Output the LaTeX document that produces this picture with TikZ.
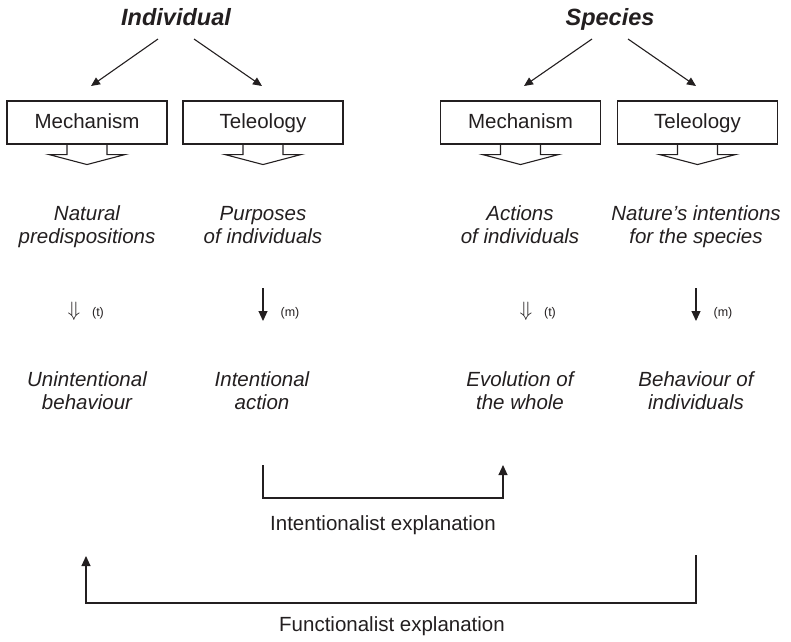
\documentclass[tikz,border=0pt]{standalone}
\usepackage{fontspec}
\setmainfont{Liberation Sans}
\usetikzlibrary{arrows.meta}
\definecolor{ink}{RGB}{35,31,32}
\newcommand\lnstrut{\vrule width 0pt height 15pt depth 5pt\relax}
\begin{document}
\begin{tikzpicture}[x=1pt,y=-1pt, line width=1.1pt, color=ink,
  title/.style={font=\fontsize{23.5}{26}\selectfont\bfseries\itshape, inner sep=0pt, anchor=base},
  box/.style={draw, minimum width=160pt, minimum height=43pt, inner sep=0pt, text height=15pt, text depth=4pt, font=\fontsize{20.5}{23}\selectfont},
  itl/.style={align=center, font=\fontsize{20.5}{23}\selectfont\itshape, inner sep=0pt},
  lbl/.style={font=\fontsize{20.5}{23}\selectfont, inner sep=0pt, anchor=base},
  smalllbl/.style={font=\fontsize{12.5}{14}\selectfont, inner sep=0pt},
  dbl/.style={font=\fontsize{19.5}{20}\selectfont, inner sep=0pt},
  arr/.style={-{Triangle[length=9pt,width=8pt]}},
  darr/.style={-{Triangle[length=10pt,width=9pt]}},
  blockarr/.style={line join=miter}
]
\useasboundingbox (0,0) rectangle (791,641);

% titles
\node[title] (ind) at (176,25) {Individual};
\node[title] (spe) at (610,25) {Species};

% boxes
\node[box] (imech) at (87,122.5) {Mechanism};
\node[box] (itel) at (263,122.5) {Teleology};
\node[box] (smech) at (520.5,122.5) {Mechanism};
\node[box] (stel) at (697.5,122.5) {Teleology};

% arrows from titles
\coordinate (ia1) at (158,39); \coordinate (ib1) at (91,86);
\coordinate (ia2) at (194,39); \coordinate (ib2) at (262,86);
\coordinate (sa1) at (592,39); \coordinate (sb1) at (524,86);
\coordinate (sa2) at (628,39); \coordinate (sb2) at (696,86);
\draw[arr] (ia1) -- (ib1);
\draw[arr] (ia2) -- (ib2);
\draw[arr] (sa1) -- (sb1);
\draw[arr] (sa2) -- (sb2);

% block arrows under boxes
\foreach \b in {imech,itel,smech,stel}{
  \draw[blockarr] (\b.south) ++(-20,0) -- ++(0,10) -- ++(-18,0) -- ++(38,10) -- ++(38,-10) -- ++(-18,0) -- ++(0,-10);
}

% italic texts
\node[itl] (nat) at (87,226.5) {\lnstrut Natural\\\lnstrut predispositions};
\node[itl] (purp) at (263,226.5) {\lnstrut Purposes\\\lnstrut of individuals};
\node[itl] (act) at (520,226.5) {\lnstrut Actions\\\lnstrut of individuals};
\node[itl] (natint) at (696,226.5) {\lnstrut Nature’s intentions\\\lnstrut for the species};

\node[itl] (unint) at (87,392.5) {\lnstrut Unintentional\\\lnstrut behaviour};
\node[itl] (intact) at (262,392.5) {\lnstrut Intentional\\\lnstrut action};
\node[itl] (evol) at (520,392.5) {\lnstrut Evolution of\\\lnstrut the whole};
\node[itl] (behav) at (696,392.5) {\lnstrut Behaviour of\\\lnstrut individuals};

% middle arrows
\node[dbl] (d1) at (74,311.5) {$\Downarrow$};
\node[smalllbl] (t1) at (98,313) {(t)};
\node[dbl] (d2) at (526,311.5) {$\Downarrow$};
\node[smalllbl] (t2) at (550,313) {(t)};

\coordinate (m1a) at (263,288); \coordinate (m1b) at (263,321);
\coordinate (m2a) at (696,288); \coordinate (m2b) at (696,321);
\draw[darr] (m1a) -- (m1b);
\draw[darr] (m2a) -- (m2b);
\node[smalllbl] (mm1) at (290,313) {(m)};
\node[smalllbl] (mm2) at (723,313) {(m)};

% intentionalist bracket
\coordinate (ib) at (263,465);
\coordinate (ie) at (503,465);
\draw[darr] (ib) -- (263,498) -- (503,498) -- (ie);
\node[lbl] (intex) at (383,530) {Intentionalist explanation};

% functionalist bracket
\coordinate (fb) at (696,555);
\coordinate (fe) at (86,556);
\draw[darr] (fb) -- (696,603) -- (86,603) -- (fe);
\node[lbl] (funex) at (392,631) {Functionalist explanation};
\end{tikzpicture}
\end{document}
